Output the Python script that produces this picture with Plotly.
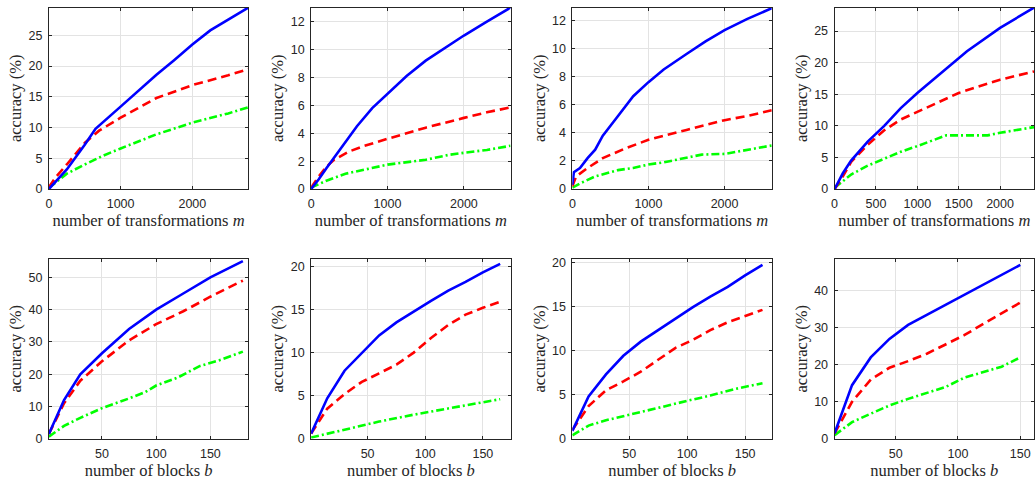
import plotly.graph_objects as go

# ---------------- data ----------------
# Top row: accuracy vs number of transformations m
p1_blue_x = [0, 100, 250, 500, 650, 1000, 1250, 1500, 1750, 2000, 2250, 2500, 2780]
p1_blue_y = [0, 1.3, 3.2, 7.2, 9.8, 13.4, 16.0, 18.6, 21.0, 23.5, 25.8, 27.6, 29.5]
p1_red_x = [0, 100, 250, 500, 700, 1000, 1500, 2000, 2500, 2780]
p1_red_y = [0.3, 2.0, 4.0, 7.5, 9.5, 11.6, 14.8, 16.9, 18.5, 19.5]
p1_green_x = [0, 250, 500, 750, 1000, 1500, 2000, 2500, 2780]
p1_green_y = [0.2, 2.5, 4.0, 5.4, 6.6, 8.9, 10.8, 12.3, 13.3]

p2_blue_x = [0, 100, 200, 320, 450, 600, 800, 1000, 1250, 1500, 1800, 2000, 2300, 2610]
p2_blue_y = [0, 0.7, 1.5, 2.4, 3.4, 4.5, 5.8, 6.8, 8.1, 9.2, 10.3, 11.0, 12.0, 13.0]
p2_red_x = [0, 100, 200, 300, 500, 700, 1000, 1500, 2000, 2300, 2610]
p2_red_y = [0.1, 0.9, 1.6, 2.1, 2.7, 3.1, 3.6, 4.4, 5.1, 5.5, 5.85]
p2_green_x = [0, 200, 450, 700, 1000, 1500, 1800, 2000, 2300, 2610]
p2_green_y = [0.1, 0.6, 1.1, 1.4, 1.75, 2.1, 2.45, 2.6, 2.8, 3.1]

p3_blue_x = [0, 20, 100, 200, 300, 400, 600, 800, 1000, 1200, 1500, 1750, 2000, 2300, 2620]
p3_blue_y = [0.3, 1.2, 1.5, 2.2, 2.8, 3.8, 5.2, 6.6, 7.6, 8.5, 9.6, 10.5, 11.3, 12.1, 12.85]
p3_red_x = [0, 50, 200, 400, 700, 1000, 1500, 2000, 2300, 2620]
p3_red_y = [0.2, 0.9, 1.5, 2.2, 2.9, 3.5, 4.2, 4.9, 5.2, 5.6]
p3_green_x = [0, 100, 300, 600, 800, 1000, 1200, 1500, 1700, 2000, 2300, 2620]
p3_green_y = [0.1, 0.4, 0.9, 1.35, 1.5, 1.75, 1.9, 2.2, 2.45, 2.5, 2.8, 3.1]

p4_blue_x = [0, 100, 200, 400, 600, 800, 1000, 1300, 1600, 2000, 2410]
p4_blue_y = [0, 2.5, 4.5, 7.5, 10.0, 12.8, 15.2, 18.5, 21.8, 25.5, 28.7]
p4_red_x = [0, 100, 200, 400, 600, 800, 1000, 1500, 2000, 2410]
p4_red_y = [0, 2.0, 4.3, 7.0, 9.3, 11.0, 12.2, 15.2, 17.3, 18.6]
p4_green_x = [0, 200, 400, 600, 800, 1000, 1200, 1350, 1600, 1850, 2000, 2410]
p4_green_y = [0.2, 2.3, 3.7, 4.8, 5.9, 6.8, 7.8, 8.5, 8.5, 8.5, 8.9, 9.8]

# Bottom row: accuracy vs number of blocks b
p5_x = [1, 15, 30, 50, 75, 100, 125, 150, 180]
p5_blue_y = [1.5, 12.0, 20.0, 26.5, 34.0, 40.0, 45.0, 50.0, 55.0]
p5_red_y = [1.5, 11.0, 18.0, 24.0, 30.5, 35.5, 39.5, 44.0, 49.0]
p5_green_x = [1, 15, 30, 50, 75, 90, 100, 120, 140, 160, 180]
p5_green_y = [0.7, 4.0, 6.5, 9.5, 12.5, 14.5, 16.5, 19.0, 22.5, 24.5, 27.0]

p6_x = [1, 15, 30, 45, 60, 75, 90, 105, 120, 135, 150, 165]
p6_blue_y = [0.6, 4.7, 7.9, 10.0, 12.0, 13.5, 14.8, 16.0, 17.2, 18.2, 19.3, 20.3]
p6_red_y = [0.6, 3.5, 5.2, 6.6, 7.6, 8.6, 10.0, 11.7, 13.2, 14.4, 15.2, 15.9]
p6_green_x = [1, 30, 60, 90, 120, 150, 165]
p6_green_y = [0.15, 1.1, 2.0, 2.8, 3.5, 4.2, 4.6]

p7_x = [1, 15, 30, 45, 60, 75, 90, 105, 120, 135, 150, 165]
p7_blue_y = [0.9, 4.8, 7.3, 9.4, 11.0, 12.3, 13.5, 14.9, 16.1, 17.2, 18.5, 19.7]
p7_red_y = [1.0, 3.7, 5.5, 6.5, 7.6, 9.0, 10.3, 11.2, 12.3, 13.2, 13.9, 14.6]
p7_green_x = [1, 15, 30, 50, 75, 100, 120, 140, 165]
p7_green_y = [0.4, 1.5, 2.1, 2.7, 3.5, 4.3, 4.9, 5.6, 6.3]

p8_x = [1, 15, 30, 45, 60, 75, 90, 105, 120, 135, 150]
p8_blue_y = [1.5, 14.5, 22.0, 27.0, 30.8, 33.5, 36.2, 39.0, 41.8, 44.5, 47.0]
p8_red_y = [1.5, 10.0, 16.0, 19.2, 21.0, 23.0, 25.5, 28.0, 31.0, 33.8, 36.8]
p8_green_y = [1.0, 4.5, 6.8, 9.0, 10.8, 12.3, 14.0, 16.5, 18.0, 19.5, 22.0]

panels = [
    (p1_blue_x, p1_blue_y, p1_red_x, p1_red_y, p1_green_x, p1_green_y),
    (p2_blue_x, p2_blue_y, p2_red_x, p2_red_y, p2_green_x, p2_green_y),
    (p3_blue_x, p3_blue_y, p3_red_x, p3_red_y, p3_green_x, p3_green_y),
    (p4_blue_x, p4_blue_y, p4_red_x, p4_red_y, p4_green_x, p4_green_y),
    (p5_x, p5_blue_y, p5_x, p5_red_y, p5_green_x, p5_green_y),
    (p6_x, p6_blue_y, p6_x, p6_red_y, p6_green_x, p6_green_y),
    (p7_x, p7_blue_y, p7_x, p7_red_y, p7_green_x, p7_green_y),
    (p8_x, p8_blue_y, p8_x, p8_red_y, p8_x, p8_green_y),
]

x_ranges = [[0, 2780], [0, 2610], [0, 2620], [0, 2410],
            [1, 185], [1, 174], [1, 173], [1, 161]]
y_ranges = [[0, 29.5], [0, 13.0], [0, 12.9], [0, 28.7],
            [0, 55.8], [0, 20.9], [0, 20.4], [0, 48.7]]
x_dticks = [1000, 1000, 1000, 500, 50, 50, 50, 50]
y_dticks = [5, 2, 2, 5, 10, 5, 5, 10]
x_titles = ["number of transformations <i>m</i>"] * 4 + ["number of blocks <i>b</i>"] * 4

# ---------------- layout ----------------
W, H = 1036, 485
col_px = [(46, 246), (309, 509), (571, 771), (834, 1034)]
row_px = [(4.7, 190), (261, 445)]

fig = go.Figure()
tick_font = dict(family="Liberation Sans, Arial", size=12.5, color="#262626")
title_font = dict(family="Liberation Serif, DejaVu Serif", size=16.5, color="#262626")

for i, (bx, by, rx, ry, gx, gy) in enumerate(panels):
    r, c = divmod(i, 4)
    n = i + 1
    xa = "x" if n == 1 else f"x{n}"
    ya = "y" if n == 1 else f"y{n}"
    fig.add_trace(go.Scatter(x=gx, y=gy, mode="lines", xaxis=xa, yaxis=ya,
                             line=dict(color="#00ff00", width=2.6, dash="8px,3px,2px,3px"),
                             showlegend=False))
    fig.add_trace(go.Scatter(x=rx, y=ry, mode="lines", xaxis=xa, yaxis=ya,
                             line=dict(color="#ff0000", width=2.6, dash="9px,5px"),
                             showlegend=False))
    fig.add_trace(go.Scatter(x=bx, y=by, mode="lines", xaxis=xa, yaxis=ya,
                             line=dict(color="#0000ff", width=2.6),
                             showlegend=False))
    x0, x1 = col_px[c]
    y0, y1 = row_px[r]
    xkey = "xaxis" if n == 1 else f"xaxis{n}"
    ykey = "yaxis" if n == 1 else f"yaxis{n}"
    common = dict(showgrid=True, gridcolor="#e3e3e3", gridwidth=1,
                  showline=True, linecolor="#262626", linewidth=1, mirror="allticks",
                  ticks="inside", ticklen=3, tickcolor="#262626", tickwidth=1,
                  zeroline=False, tickfont=tick_font, ticklabelstandoff=3)
    fig.layout[xkey] = dict(domain=[x0 / W, x1 / W], anchor=ya, range=x_ranges[i],
                            tick0=0, dtick=x_dticks[i],
                            title=dict(text=x_titles[i], font=title_font, standoff=1),
                            **common)
    fig.layout[ykey] = dict(domain=[1 - y1 / H, 1 - y0 / H], anchor=xa, range=y_ranges[i],
                            tick0=0, dtick=y_dticks[i],
                            title=dict(text="accuracy (%)", font=title_font, standoff=2),
                            **common)

fig.update_layout(width=W, height=H, margin=dict(l=0, r=0, t=0, b=0),
                  paper_bgcolor="white", plot_bgcolor="white")

fig.write_html("out.html",
               config={"displayModeBar": False},
               post_script="document.body.style.margin='0px';"
                           "document.body.style.overflow='hidden';")
